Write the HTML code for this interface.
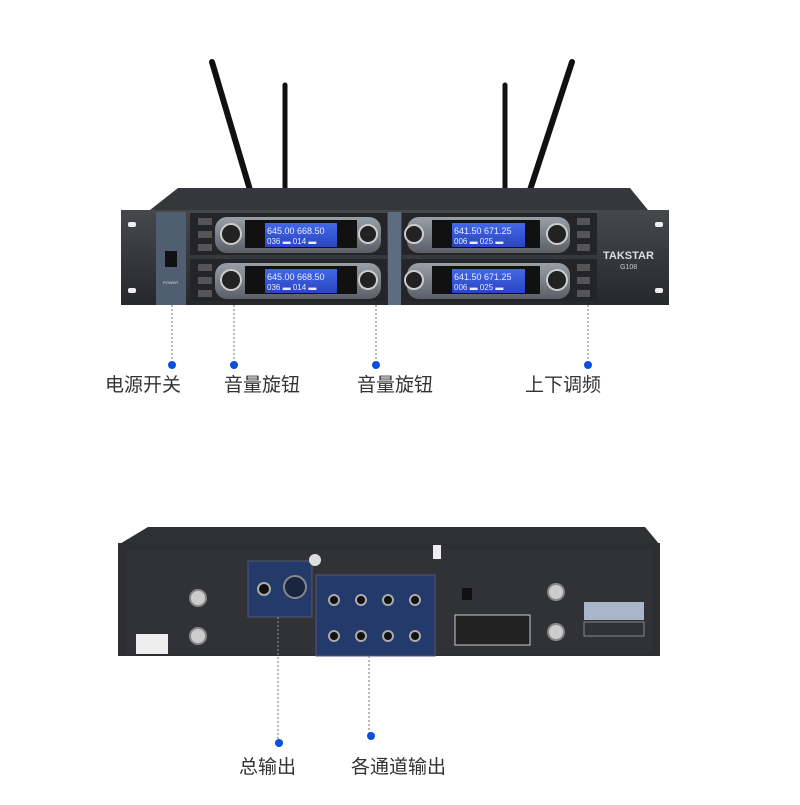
<!DOCTYPE html>
<html><head><meta charset="utf-8"><style>
html,body{margin:0;padding:0;background:#fff;}
.t{font-family:"Liberation Sans","Noto Sans CJK SC",sans-serif;fill:#333;font-size:19px;}
.s{font-family:"Liberation Sans",sans-serif;fill:#ddd;font-size:4px;}
.l1{font-family:'Liberation Sans';font-size:9px;fill:#e8eeff}
.l2{font-family:'Liberation Sans';font-size:8px;fill:#e8eeff}
</style></head><body>
<svg width="800" height="800" viewBox="0 0 800 800" xmlns="http://www.w3.org/2000/svg">
<defs>
<linearGradient id="pan" x1="0" y1="0" x2="0" y2="1"><stop offset="0" stop-color="#45484d"/><stop offset="1" stop-color="#26282b"/></linearGradient>
<linearGradient id="mod" x1="0" y1="0" x2="0" y2="1"><stop offset="0" stop-color="#9aa0a8"/><stop offset="1" stop-color="#5a5f66"/></linearGradient>
<linearGradient id="lcd" x1="0" y1="0" x2="0" y2="1"><stop offset="0" stop-color="#4368e8"/><stop offset="1" stop-color="#2a45c0"/></linearGradient>
</defs>
<g stroke="#111" stroke-linecap="round">
<line x1="250" y1="190" x2="212" y2="62" stroke-width="6"/>
<line x1="285" y1="190" x2="285" y2="85" stroke-width="5"/>
<line x1="505" y1="190" x2="505" y2="85" stroke-width="5"/>
<line x1="530" y1="190" x2="572" y2="62" stroke-width="6"/>
</g>
<polygon points="150,210 178,188 630,188 648,210" fill="#35373b"/>
<rect x="121" y="210" width="548" height="95" fill="url(#pan)"/>
<rect x="128" y="222" width="8" height="5" rx="2" fill="#eee"/><rect x="128" y="288" width="8" height="5" rx="2" fill="#eee"/>
<rect x="655" y="222" width="8" height="5" rx="2" fill="#eee"/><rect x="655" y="288" width="8" height="5" rx="2" fill="#eee"/>
<rect x="156" y="212" width="30" height="93" fill="#4f5e70"/>
<rect x="165" y="251" width="12" height="16" fill="#111"/>
<text x="163" y="284" class="s">POWER</text>
<rect x="388" y="212" width="13" height="93" fill="#5d6c80"/>
<g id="ml">
<rect x="190" y="213" width="197" height="42" fill="#232528"/>
<rect x="215" y="217" width="166" height="36" rx="12" fill="url(#mod)"/>
<rect x="245" y="220" width="112" height="28" fill="#111"/>
<rect x="265" y="223" width="72" height="24" fill="url(#lcd)"/>
<text x="267" y="234" class="l1">645.00 668.50</text>
<text x="267" y="244" class="l2">036 ▬  014 ▬</text>
<circle cx="231" cy="234" r="10" fill="#222" stroke="#ccc" stroke-width="2"/>
<circle cx="368" cy="234" r="9" fill="#222" stroke="#ccc" stroke-width="2"/>
<rect x="198" y="218" width="14" height="7" fill="#555"/><rect x="198" y="231" width="14" height="7" fill="#555"/><rect x="198" y="244" width="14" height="7" fill="#555"/>
</g>
<use href="#ml" transform="translate(0,46)"/>
<g id="mr">
<rect x="402" y="213" width="195" height="42" fill="#232528"/>
<rect x="407" y="217" width="163" height="36" rx="12" fill="url(#mod)"/>
<rect x="432" y="220" width="108" height="28" fill="#111"/>
<rect x="452" y="223" width="73" height="24" fill="url(#lcd)"/>
<text x="454" y="234" class="l1">641.50 671.25</text>
<text x="454" y="244" class="l2">006 ▬  025 ▬</text>
<circle cx="414" cy="234" r="9" fill="#222" stroke="#ccc" stroke-width="2"/>
<circle cx="557" cy="234" r="10" fill="#222" stroke="#ccc" stroke-width="2"/>
<rect x="577" y="218" width="13" height="7" fill="#555"/><rect x="577" y="231" width="13" height="7" fill="#555"/><rect x="577" y="244" width="13" height="7" fill="#555"/>
</g>
<use href="#mr" transform="translate(0,46)"/>
<text x="603" y="259" style="font-family:'Liberation Sans';font-weight:bold;font-size:11px;fill:#ddd">TAKSTAR</text>
<text x="620" y="269" style="font-family:'Liberation Sans';font-size:7px;fill:#ccc">G108</text>
<g stroke="#888" stroke-width="1.2" stroke-dasharray="2,2">
<line x1="172" y1="305" x2="172" y2="362"/><line x1="234" y1="305" x2="234" y2="362"/>
<line x1="376" y1="305" x2="376" y2="362"/><line x1="588" y1="305" x2="588" y2="362"/>
</g>
<g fill="#0a4fe0"><circle cx="172" cy="365" r="4"/><circle cx="234" cy="365" r="4"/><circle cx="376" cy="365" r="4"/><circle cx="588" cy="365" r="4"/></g>
<text x="105" y="391" class="t">电源开关</text>
<text x="224" y="391" class="t">音量旋钮</text>
<text x="357" y="391" class="t">音量旋钮</text>
<text x="525" y="391" class="t">上下调频</text>
<!-- back -->
<polygon points="118,545 148,527 645,527 660,545" fill="#2e3034"/>
<rect x="118" y="543" width="542" height="113" fill="#2c2e32"/>
<rect x="126" y="549" width="526" height="105" fill="#303236"/>
<rect x="248" y="561" width="64" height="56" fill="#233a6a" stroke="#557"/>
<circle cx="264" cy="589" r="6" fill="#111" stroke="#aaa" stroke-width="2"/>
<circle cx="295" cy="587" r="11" fill="#1a2540" stroke="#888" stroke-width="2"/>
<rect x="316" y="575" width="119" height="81" fill="#233a6a" stroke="#557"/>
<g fill="#111" stroke="#aaa" stroke-width="2">
<circle cx="334" cy="600" r="5"/><circle cx="361" cy="600" r="5"/><circle cx="388" cy="600" r="5"/><circle cx="415" cy="600" r="5"/>
<circle cx="334" cy="636" r="5"/><circle cx="361" cy="636" r="5"/><circle cx="388" cy="636" r="5"/><circle cx="415" cy="636" r="5"/>
</g>
<circle cx="315" cy="560" r="6" fill="#ddd"/>
<rect x="433" y="545" width="8" height="14" fill="#eee"/>
<g fill="#ccc" stroke="#888" stroke-width="2">
<circle cx="198" cy="598" r="8"/><circle cx="198" cy="636" r="8"/><circle cx="556" cy="592" r="8"/><circle cx="556" cy="632" r="8"/>
</g>
<rect x="462" y="588" width="10" height="12" fill="#111"/>
<rect x="455" y="615" width="75" height="30" fill="#222" stroke="#ccc"/>
<rect x="584" y="602" width="60" height="18" fill="#c8d6f0" opacity=".8"/>
<rect x="584" y="622" width="60" height="14" fill="none" stroke="#888"/>
<rect x="136" y="634" width="32" height="20" fill="#eee"/>
<g stroke="#888" stroke-width="1.2" stroke-dasharray="2,2">
<line x1="278" y1="617" x2="278" y2="740"/><line x1="369" y1="656" x2="369" y2="733"/>
</g>
<g fill="#0a4fe0"><circle cx="279" cy="743" r="4"/><circle cx="371" cy="736" r="4"/></g>
<text x="239" y="773" class="t">总输出</text>
<text x="351" y="773" class="t">各通道输出</text>
</svg>
</body></html>
